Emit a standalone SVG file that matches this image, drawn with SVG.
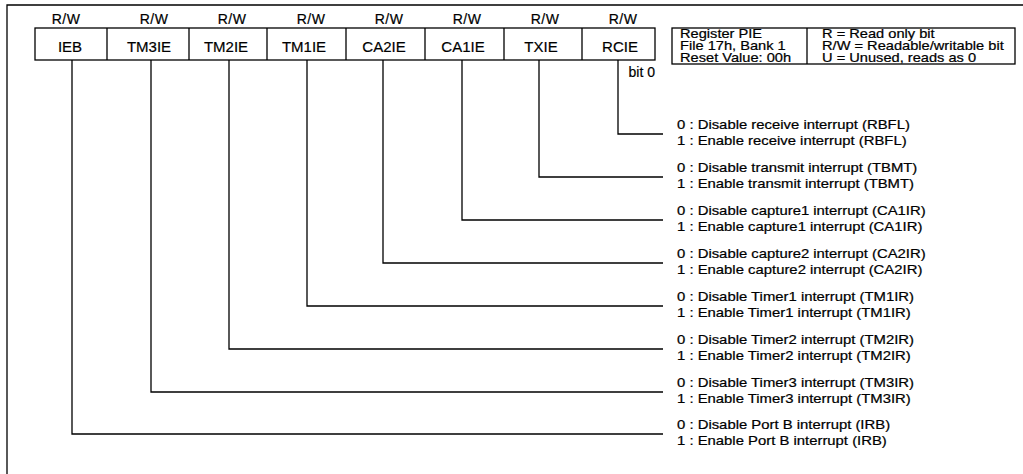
<svg xmlns="http://www.w3.org/2000/svg" width="1023" height="474" viewBox="0 0 1023 474">
<style>
text{font-family:"Liberation Sans",Arial,sans-serif;fill:#000;stroke:#000;stroke-width:0.2}
.rw{font-size:14px;text-anchor:middle;letter-spacing:0.5px}
.cell{font-size:15px;text-anchor:middle}
.d{font-size:12px}
.b0{font-size:14px;text-anchor:end}
.ln{stroke:#000;stroke-width:1.3;fill:none}
.bx{stroke:#000;stroke-width:1.3;fill:#fff}
</style>
<rect width="1023" height="474" fill="#fff"/>
<g id="frame">
<path class="ln" d="M7,474 V5 H1023" stroke-width="1.6"/>
</g>
<g id="register">
<rect class="bx" x="35" y="28" width="620" height="32"/>
<path class="ln" d="M107,28V60M189,28V60M267,28V60M346,28V60M425,28V60M504,28V60M582,28V60"/>
</g>
<g id="bit7"><text class="rw" x="66" y="24">R/W</text><text class="cell" x="70" y="52">IEB</text></g>
<g id="bit6"><text class="rw" x="154" y="24">R/W</text><text class="cell" x="149" y="52">TM3IE</text></g>
<g id="bit5"><text class="rw" x="232" y="24">R/W</text><text class="cell" x="226" y="52">TM2IE</text></g>
<g id="bit4"><text class="rw" x="311" y="24">R/W</text><text class="cell" x="304" y="52">TM1IE</text></g>
<g id="bit3"><text class="rw" x="389" y="24">R/W</text><text class="cell" x="384" y="52">CA2IE</text></g>
<g id="bit2"><text class="rw" x="467" y="24">R/W</text><text class="cell" x="463" y="52">CA1IE</text></g>
<g id="bit1"><text class="rw" x="545" y="24">R/W</text><text class="cell" x="541" y="52">TXIE</text></g>
<g id="bit0"><text class="rw" x="623" y="24">R/W</text><text class="cell" x="620" y="52">RCIE</text><text class="b0" x="655" y="77">bit 0</text></g>
<g id="legend">
<rect class="bx" x="672" y="28" width="343" height="36"/>
<path class="ln" d="M807,28V64"/>
<g transform="translate(680 0) scale(1.22 1)">
<text class="d" x="0" y="38">Register PIE</text>
<text class="d" x="0" y="50">File 17h, Bank 1</text>
<text class="d" x="0" y="62">Reset Value: 00h</text>
</g>
<g transform="translate(822 0) scale(1.22 1)">
<text class="d" x="0" y="38">R = Read only bit</text>
<text class="d" x="0" y="50">R/W = Readable/writable bit</text>
<text class="d" x="0" y="62">U = Unused, reads as 0</text>
</g>
</g>
<g id="connectors">
<path class="ln" d="M618,60V134H663"/>
<path class="ln" d="M539,60V177H663"/>
<path class="ln" d="M462,60V220H663"/>
<path class="ln" d="M383,60V263H663"/>
<path class="ln" d="M307,60V306H663"/>
<path class="ln" d="M229,60V349H663"/>
<path class="ln" d="M151,60V392H663"/>
<path class="ln" d="M72,60V434H663"/>
</g>
<g id="desc" transform="translate(677 0) scale(1.24 1)">
<text class="d" x="0" y="129">0 : Disable receive interrupt (RBFL)</text>
<text class="d" x="0" y="145">1 : Enable receive interrupt (RBFL)</text>
<text class="d" x="0" y="172">0 : Disable transmit interrupt (TBMT)</text>
<text class="d" x="0" y="188">1 : Enable transmit  interrupt (TBMT)</text>
<text class="d" x="0" y="215">0 : Disable capture1 interrupt (CA1IR)</text>
<text class="d" x="0" y="231">1 : Enable capture1 interrupt (CA1IR)</text>
<text class="d" x="0" y="258">0 : Disable capture2  interrupt (CA2IR)</text>
<text class="d" x="0" y="274">1 : Enable capture2 interrupt (CA2IR)</text>
<text class="d" x="0" y="301">0 : Disable Timer1  interrupt (TM1IR)</text>
<text class="d" x="0" y="317">1 : Enable Timer1 interrupt (TM1IR)</text>
<text class="d" x="0" y="344">0 : Disable Timer2  interrupt (TM2IR)</text>
<text class="d" x="0" y="360">1 : Enable Timer2 interrupt (TM2IR)</text>
<text class="d" x="0" y="387">0 : Disable Timer3 interrupt (TM3IR)</text>
<text class="d" x="0" y="403">1 : Enable Timer3 interrupt (TM3IR)</text>
<text class="d" x="0" y="429">0 : Disable Port B interrupt (IRB)</text>
<text class="d" x="0" y="445">1 : Enable Port B interrupt (IRB)</text>
</g>
</svg>
